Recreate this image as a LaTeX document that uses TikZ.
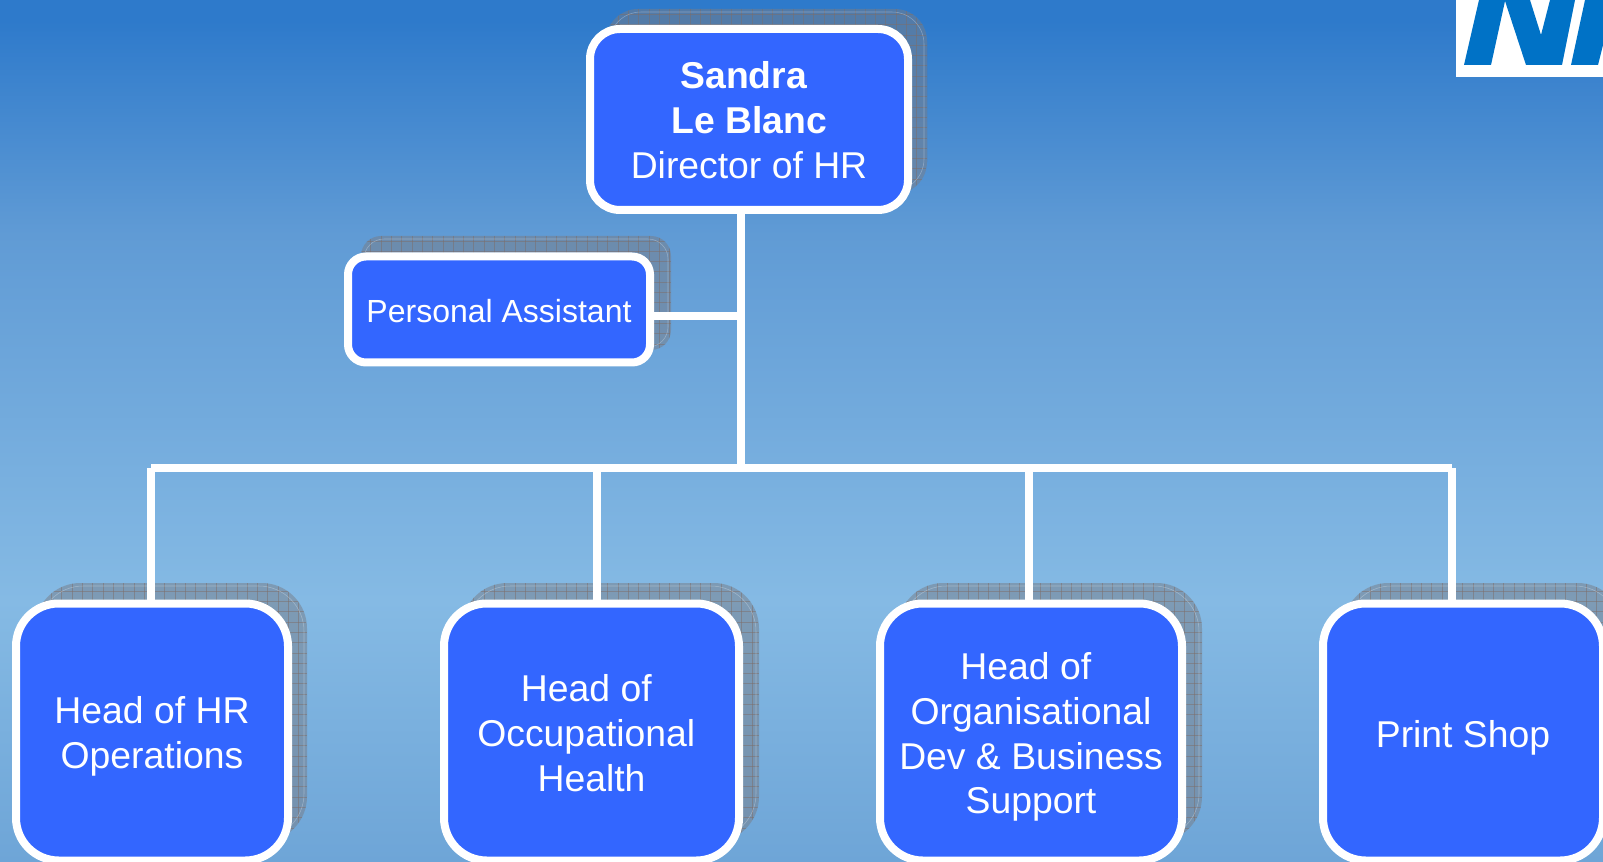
\documentclass[tikz,border=0pt]{standalone}
\usepackage{fontspec}
\setmainfont{Liberation Sans}
\definecolor{bgtop}{RGB}{46,122,203}
\definecolor{bgup}{RGB}{96,155,213}
\definecolor{bgmid}{RGB}{133,186,228}
\definecolor{bgbot}{RGB}{110,165,215}
\definecolor{boxblue}{RGB}{51,102,255}
\definecolor{nhsblue}{RGB}{0,114,198}
\definecolor{shadowfill}{RGB}{120,125,135}
\definecolor{gridbrown}{RGB}{125,110,105}
\pgfdeclareverticalshading{bgshade}{100bp}{color(0bp)=(bgbot); color(25bp)=(bgbot); color(40.2bp)=(bgmid); color(61.4bp)=(bgup); color(73.8bp)=(bgtop); color(75bp)=(bgtop); color(100bp)=(bgtop)}
\newcommand{\trailgap}{\rule{.278em}{0pt}}
\tikzset{
  orgbox/.style={draw=white,fill=boxblue,line width=6pt,text=white,align=flush center,inner sep=0pt,outer sep=0pt,
    font=\fontsize{28}{33.6}\selectfont},
  boxw/.style={minimum width=#1,text width=#1},
  firstline/.style={text height=0pt,text depth=#1},
  oneline/.style={text height=#1,text depth=0pt},
  conn/.style={draw=white,line width=6pt,line cap=butt},
  shfill/.style={fill=shadowfill,fill opacity=.5},
  shgrid/.style={draw=gridbrown,line width=.5pt,opacity=.5},
  shedge/.style={draw=white,line width=.4pt,opacity=.3},
}
% x1 y1 x2 y2 radius(pt): drop shadow shape with its grid
\newcommand{\dropshadow}[5]{%
  \path[shfill,rounded corners=#5pt] (#1,#2) rectangle (#3,#4);
  \begin{scope}
    \clip[rounded corners=#5pt] (#1,#2) rectangle (#3,#4);
    \foreach \gx in {0,10.3,...,1650} \draw[shgrid] (\gx,#2) -- (\gx,#4);
    \foreach \gy in {4,14.3,...,870} \draw[shgrid] (#1,\gy) -- (#3,\gy);
  \end{scope}
  \draw[shedge,rounded corners=#5pt] ($(#1,#2)+(3,3)$) rectangle ($(#3,#4)+(-3,-3)$);
}
\usetikzlibrary{calc}
\begin{document}
\begin{tikzpicture}[x=.75pt,y=-.75pt]
\useasboundingbox (0,0) rectangle (1603,862);
\shade[shading=bgshade] (0,0) rectangle (1603,862);
% logo
\fill[white] (1456,0) rectangle (1603,77);
\fill[nhsblue] (1464,65) -- (1491,65) -- (1505,1) -- (1526,65) -- (1562,65) -- (1575,0) -- (1550,0) -- (1541,35) -- (1530,0) -- (1479,0) -- cycle;
\fill[nhsblue] (1571,65) -- (1598,65) -- (1603,45) -- (1603,0) -- (1585,0) -- cycle;
% shadows
\dropshadow{606}{9}{927}{194}{24}
\dropshadow{361}{236}{671}{350}{15}
\dropshadow{35}{583}{307}{842}{34}
\dropshadow{462}{583}{759}{842}{34}
\dropshadow{898}{583}{1202}{842}{34}
\dropshadow{1343}{583}{1623}{842}{34}
% boxes
\node[orgbox,boxw=238.5pt,minimum height=135.75pt,rounded corners=22.5pt,firstline=45.75pt] (dir) at (749,119.5)
  {\textbf{Sandra}\trailgap\\\textbf{Le Blanc}\\Director of HR};
\node[orgbox,boxw=226.5pt,minimum height=79.5pt,rounded corners=13.5pt,oneline=19.1pt,font=\fontsize{24}{28.8}\selectfont] (pa) at (499,309.5)
  {Personal Assistant};
\node[orgbox,boxw=204pt,minimum height=192.75pt,rounded corners=32pt,firstline=12.75pt] (hr) at (152,732)
  {Head of HR\\Operations};
\node[orgbox,boxw=221.25pt,minimum height=192.75pt,rounded corners=32pt,firstline=45.75pt] (occ) at (591.5,732)
  {Head of\trailgap\\Occupational\trailgap\\Health};
\node[orgbox,boxw=226.5pt,minimum height=192.75pt,rounded corners=32pt,firstline=78.75pt] (org) at (1031,732)
  {Head of\trailgap\\Organisational\\Dev \& Business\\Support};
\node[orgbox,boxw=210pt,minimum height=192.75pt,rounded corners=32pt,oneline=22.8pt] (print) at (1463,732)
  {Print Shop};
% connector junctions
\coordinate (pj) at (741,316);
\coordinate (bj) at (741,468);
\coordinate (bl) at (151,468);
\coordinate (oj) at (597,468);
\coordinate (gj) at (1029,468);
\coordinate (br) at (1452,468);
% connectors
\draw[conn] (dir.south -| bj) -- (bj);
\draw[conn] (pa.east |- pj) -- (pj);
\draw[conn] (bl) -- (br);
\draw[conn] (bl) -- (hr.north -| bl);
\draw[conn] (oj) -- (occ.north -| oj);
\draw[conn] (gj) -- (org.north -| gj);
\draw[conn] (br) -- (print.north -| br);
\end{tikzpicture}
\end{document}
